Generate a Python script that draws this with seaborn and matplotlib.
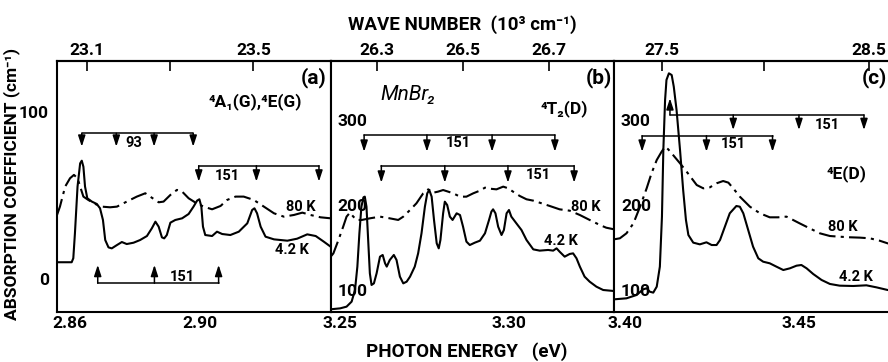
import matplotlib
matplotlib.use("Agg")
import matplotlib.pyplot as plt
import pandas as pd
import seaborn as sns

# ---------------- panel (a): 4A1(G), 4E(G) ----------------
energy_a_42K = [2.8560, 2.8605, 2.8610, 2.8615, 2.8623, 2.8631, 2.8636, 2.8641, 2.8646, 2.8653,
                2.8667, 2.8682, 2.8692, 2.8701, 2.8708, 2.8718, 2.8728, 2.8744, 2.8759, 2.8774,
                2.8795, 2.8815, 2.8836, 2.8851, 2.8862, 2.8872, 2.8882, 2.8889, 2.8897, 2.8908,
                2.8923, 2.8944, 2.8964, 2.8979, 2.8990, 2.8997, 2.9003, 2.9008, 2.9015, 2.9036,
                2.9051, 2.9067, 2.9092, 2.9118, 2.9144, 2.9159, 2.9166, 2.9174, 2.9185, 2.9200,
                2.9226, 2.9267, 2.9297, 2.9328, 2.9354, 2.9379, 2.9400]
alpha_a_42K = [10.2, 10.2, 12.6, 27.5, 55.5, 69.4, 71.0, 67.4, 55.5, 48.5,
               46.5, 45.1, 42.5, 35.5, 23.5, 19.1, 18.5, 20.5, 22.3, 21.1,
               21.9, 23.5, 25.9, 30.5, 34.5, 31.5, 25.1, 24.5, 26.5, 33.9,
               35.5, 36.5, 39.1, 43.5, 47.1, 47.9, 43.5, 31.5, 26.5, 25.9,
               28.5, 27.1, 26.5, 28.5, 33.5, 41.5, 42.5, 39.5, 31.5, 25.5,
               23.9, 23.1, 24.3, 26.9, 25.9, 22.5, 19.5]
energy_a_80K = [2.8560, 2.8569, 2.8585, 2.8600, 2.8612, 2.8623, 2.8631, 2.8641, 2.8656, 2.8677,
                2.8697, 2.8723, 2.8744, 2.8774, 2.8805, 2.8831, 2.8846, 2.8872, 2.8887, 2.8908,
                2.8928, 2.8944, 2.8964, 2.8985, 2.9010, 2.9036, 2.9062, 2.9082, 2.9108, 2.9133,
                2.9164, 2.9195, 2.9226, 2.9256, 2.9287, 2.9313, 2.9338, 2.9369, 2.9400]
alpha_a_80K = [38.5, 43.5, 55.5, 60.5, 62.5, 60.5, 55.5, 49.5, 47.5, 45.1,
               43.5, 43.1, 43.5, 46.5, 49.5, 51.5, 49.5, 46.1, 46.5, 50.5,
               53.5, 52.5, 48.5, 45.9, 43.5, 41.9, 43.9, 47.5, 49.5, 49.5,
               47.5, 43.5, 39.5, 37.5, 38.5, 39.9, 38.5, 37.1, 36.5]

# ---------------- panel (b): 4T2(D) ----------------
energy_b_42K = [3.2472, 3.2500, 3.2519, 3.2534, 3.2544, 3.2551, 3.2557, 3.2563, 3.2569, 3.2573,
                3.2578, 3.2583, 3.2588, 3.2593, 3.2600, 3.2608, 3.2618, 3.2626, 3.2633, 3.2638,
                3.2647, 3.2659, 3.2667, 3.2677, 3.2687, 3.2697, 3.2707, 3.2721, 3.2731, 3.2741,
                3.2751, 3.2758, 3.2764, 3.2771, 3.2778, 3.2786, 3.2792, 3.2797, 3.2805, 3.2810,
                3.2817, 3.2825, 3.2833, 3.2845, 3.2855, 3.2864, 3.2874, 3.2884, 3.2899, 3.2914,
                3.2929, 3.2941, 3.2948, 3.2953, 3.2960, 3.2968, 3.2978, 3.2985, 3.2993, 3.3000,
                3.3007, 3.3022, 3.3037, 3.3052, 3.3072, 3.3091, 3.3116, 3.3131, 3.3141, 3.3150,
                3.3165, 3.3180, 3.3190, 3.3200, 3.3210, 3.3224, 3.3239, 3.3259, 3.3279, 3.3311]
alpha_b_42K = [77.3, 78.4, 80.4, 86.3, 100.0, 127.5, 166.7, 198.0, 209.0, 209.8,
               198.0, 158.8, 119.6, 105.9, 107.8, 119.6, 139.2, 141.2, 131.4, 127.5,
               135.3, 141.2, 135.3, 115.7, 107.8, 109.8, 115.7, 127.5, 143.1, 166.7,
               198.0, 213.7, 217.6, 209.8, 182.4, 154.9, 149.0, 158.8, 190.2, 203.9,
               200.0, 186.3, 182.4, 190.2, 188.2, 174.5, 156.9, 152.9, 155.7, 158.0,
               166.7, 182.4, 192.2, 194.9, 190.2, 174.5, 164.7, 170.6, 190.2, 194.1,
               186.3, 178.4, 170.6, 158.8, 147.8, 146.3, 147.1, 146.3, 149.0, 145.1,
               139.2, 142.4, 143.1, 137.3, 127.5, 115.7, 109.8, 103.9, 100.0, 98.8]
energy_b_80K = [3.2472, 3.2480, 3.2495, 3.2509, 3.2519, 3.2529, 3.2539, 3.2549, 3.2564, 3.2588,
                3.2618, 3.2647, 3.2672, 3.2687, 3.2707, 3.2726, 3.2746, 3.2761, 3.2776, 3.2790,
                3.2805, 3.2820, 3.2835, 3.2855, 3.2874, 3.2894, 3.2914, 3.2929, 3.2943, 3.2963,
                3.2983, 3.2998, 3.3012, 3.3032, 3.3052, 3.3072, 3.3091, 3.3121, 3.3150, 3.3180,
                3.3210, 3.3239, 3.3269, 3.3288, 3.3311]
alpha_b_80K = [139.2, 143.1, 158.8, 174.5, 186.3, 191.0, 186.3, 182.4, 182.4, 184.3,
               186.3, 184.3, 182.4, 186.3, 194.1, 202.0, 213.7, 218.4, 214.5, 215.7,
               217.6, 215.7, 213.7, 209.8, 209.8, 213.7, 216.9, 220.4, 219.2, 218.4,
               221.6, 219.6, 215.7, 210.6, 206.7, 205.1, 202.7, 198.8, 194.9, 193.3,
               188.2, 182.4, 176.5, 173.3, 171.4]

# ---------------- panel (c): 4E(D) ----------------
energy_c_42K = [3.3968, 3.4004, 3.4033, 3.4052, 3.4062, 3.4071, 3.4081, 3.4091, 3.4100, 3.4106,
                3.4110, 3.4115, 3.4119, 3.4126, 3.4134, 3.4140, 3.4148, 3.4158, 3.4167, 3.4175,
                3.4182, 3.4196, 3.4215, 3.4234, 3.4249, 3.4263, 3.4273, 3.4287, 3.4301, 3.4320,
                3.4330, 3.4340, 3.4354, 3.4368, 3.4383, 3.4397, 3.4416, 3.4435, 3.4455, 3.4474,
                3.4493, 3.4507, 3.4522, 3.4541, 3.4565, 3.4589, 3.4617, 3.4656, 3.4694, 3.4723,
                3.4755, 3.4780]
alpha_c_42K = [89.0, 90.2, 94.1, 100.8, 102.0, 98.0, 96.9, 103.9, 127.5, 186.3,
               264.7, 323.5, 347.1, 354.9, 352.9, 339.2, 311.8, 264.7, 217.6, 182.4,
               164.7, 155.7, 153.7, 156.1, 152.9, 152.9, 158.8, 174.5, 190.2, 198.8,
               198.0, 190.2, 170.6, 151.0, 137.3, 133.3, 131.4, 127.5, 123.5, 125.5,
               128.6, 129.4, 125.5, 118.8, 111.8, 107.1, 105.1, 104.7, 105.5, 103.1,
               100.0, 99.0]
energy_c_80K = [3.3968, 3.3985, 3.4004, 3.4024, 3.4043, 3.4062, 3.4076, 3.4091, 3.4105, 3.4115,
                3.4124, 3.4138, 3.4158, 3.4177, 3.4206, 3.4225, 3.4244, 3.4263, 3.4282, 3.4297,
                3.4311, 3.4330, 3.4359, 3.4388, 3.4416, 3.4440, 3.4464, 3.4483, 3.4502, 3.4531,
                3.4560, 3.4589, 3.4617, 3.4646, 3.4675, 3.4704, 3.4732, 3.4755, 3.4780]
alpha_c_80K = [159.6, 160.8, 166.7, 178.4, 198.0, 219.6, 237.3, 252.9, 262.7, 268.6,
               265.5, 258.8, 249.0, 239.2, 223.5, 219.6, 220.8, 225.5, 228.2, 226.3,
               219.6, 209.8, 198.0, 190.2, 185.5, 185.5, 186.3, 182.4, 178.4, 172.5,
               166.7, 163.5, 162.7, 162.0, 161.6, 160.8, 158.0, 154.9, 153.0]

# ---------------- vibronic progressions (arrow positions, eV) ----------------
prog_a_93 = [2.8636, 2.8742, 2.8858, 2.8978]
prog_a_151_top = [2.8995, 2.9172, 2.9364]
prog_a_151_bottom = [2.8685, 2.8859, 2.9056]
prog_b_151_first = [3.2571, 3.2757, 3.2950, 3.3136]
prog_b_151_second = [3.2622, 3.2810, 3.2997, 3.3193]
prog_c_151_upper = [3.4129, 3.4311, 3.4500, 3.4687]
prog_c_151_lower = [3.4049, 3.4234, 3.4424]

# ---------------- axis ticks ----------------
bottom_ticks_a = [2.86, 2.90]
bottom_ticks_b = [3.25, 3.30]
bottom_ticks_c = [3.40, 3.45]
left_ticks_a = [0, 100]
left_ticks_bc = [100, 200, 300]
top_pos_a = [2.8651, 2.8908, 2.9163]
top_lab_a = ["23.1", "", "23.5"]
top_pos_b = [3.2608, 3.2864, 3.3118]
top_lab_b = ["26.3", "26.5", "26.7"]
top_pos_c = [3.4105, 3.4399, 3.4701]
top_lab_c = ["27.5", "", "28.5"]

sns.set_theme(style="white")
plt.rcParams["font.family"] = ["Roboto", "DejaVu Sans"]
plt.rcParams["axes.linewidth"] = 1.5
plt.rcParams["axes.edgecolor"] = "black"
plt.rcParams["text.color"] = "black"
plt.rcParams["xtick.color"] = "black"
plt.rcParams["ytick.color"] = "black"

TICK_FS = 12.5
SMALL_FS = 10.5
STATE_FS = 12.5
PANEL_FS = 15
TITLE_FS = 13.5

fig = plt.figure(figsize=(8.88, 3.62), dpi=100)
ax_a = fig.add_axes([0.0642, 0.1381, 0.3082, 0.6934])
ax_b = fig.add_axes([0.3724, 0.1381, 0.3190, 0.6934])
ax_c = fig.add_axes([0.6914, 0.1381, 0.3164, 0.6934])

DASHES = {"4.2 K": "", "80 K": (8, 2.5, 1.5, 2.5)}


def spectra(ax, e42, a42, e80, a80):
    df = pd.concat([
        pd.DataFrame({"energy": e42, "alpha": a42, "T": "4.2 K"}),
        pd.DataFrame({"energy": e80, "alpha": a80, "T": "80 K"}),
    ])
    sns.lineplot(data=df, x="energy", y="alpha", style="T", dashes=DASHES,
                 color="black", lw=1.5, estimator=None, sort=False,
                 legend=False, ax=ax)
    ax.set_xlabel("")
    ax.set_ylabel("")


def progression(ax, xs, y_bar, tips, label, label_xy):
    ax.plot([xs[0], xs[-1]], [y_bar, y_bar], color="black", lw=1.1)
    for x, tip in zip(xs, tips):
        ax.annotate("", xy=(x, tip), xytext=(x, y_bar),
                    arrowprops=dict(arrowstyle="-|>,head_length=0.55,head_width=0.18",
                                    color="black", lw=1.1, shrinkA=0, shrinkB=0))
    ax.text(label_xy[0], label_xy[1], label, ha="center", va="center",
            fontsize=SMALL_FS, fontweight="bold")


spectra(ax_a, energy_a_42K, alpha_a_42K, energy_a_80K, alpha_a_80K)
spectra(ax_b, energy_b_42K, alpha_b_42K, energy_b_80K, alpha_b_80K)
spectra(ax_c, energy_c_42K, alpha_c_42K, energy_c_80K, alpha_c_80K)

ax_a.set_xlim(2.856, 2.940)
ax_a.set_ylim(-19.6, 130.7)
ax_b.set_xlim(3.2472, 3.3311)
ax_b.set_ylim(74.1, 369.4)
ax_c.set_xlim(3.3968, 3.4776)
ax_c.set_ylim(74.1, 369.4)

for ax, bt, tp, tl in [(ax_a, bottom_ticks_a, top_pos_a, top_lab_a),
                       (ax_b, bottom_ticks_b, top_pos_b, top_lab_b),
                       (ax_c, bottom_ticks_c, top_pos_c, top_lab_c)]:
    ax.set_xticks(bt, labels=[f"{v:.2f}" for v in bt])
    ax.tick_params(axis="x", direction="in", length=7, width=1.2, pad=3,
                   labelsize=TICK_FS)
    for lab in ax.get_xticklabels():
        lab.set_fontweight("bold")
    top = ax.secondary_xaxis("top")
    top.set_xticks(tp, labels=tl)
    top.tick_params(direction="in", length=7, width=1.2, pad=2, labelsize=TICK_FS)
    for lab in top.get_xticklabels():
        lab.set_fontweight("bold")
    top.spines["top"].set_linewidth(1.5)
    for sp in ax.spines.values():
        sp.set_linewidth(1.5)

# panel (a) y axis: labels outside
ax_a.set_yticks(left_ticks_a, labels=[str(v) for v in left_ticks_a])
ax_a.tick_params(axis="y", direction="inout", length=12, width=1.2, pad=0,
                 labelsize=TICK_FS)
for lab in ax_a.get_yticklabels():
    lab.set_fontweight("bold")

# panels (b), (c) y axis: labels inside the frame
for ax in (ax_b, ax_c):
    ax.set_yticks(left_ticks_bc, labels=[str(v) for v in left_ticks_bc])
    ax.tick_params(axis="y", direction="in", length=4, width=1.2, pad=-5,
                   labelsize=TICK_FS)
    for lab in ax.get_yticklabels():
        lab.set_horizontalalignment("left")
        lab.set_fontweight("bold")

# progressions
progression(ax_a, prog_a_93, 87.4, [79.4] * 4, "93", (2.8795, 81.8))
progression(ax_a, prog_a_151_top, 68.0, [58.5] * 3, "151", (2.9082, 61.9))
progression(ax_a, prog_a_151_bottom, -2.4, [8.6] * 3, "151", (2.8944, 1.6))
progression(ax_b, prog_b_151_first, 282.4, [262.7] * 4, "151", (3.2850, 272.5))
progression(ax_b, prog_b_151_second, 246.3, [226.3] * 4, "151", (3.3086, 235.3))
progression(ax_c, prog_c_151_upper, 305.9, [325.5, 288.2, 288.2, 288.2], "151",
            (3.4582, 294.1))
progression(ax_c, prog_c_151_lower, 281.5, [262.7] * 3, "151", (3.4311, 271.8))

# curve labels and state assignments
lab_kw = dict(ha="center", va="center", fontsize=SMALL_FS, fontweight="bold")
ax_a.text(2.9308, 43.3, "80 K", **lab_kw)
ax_a.text(2.9282, 17.5, "4.2 K", **lab_kw)
ax_b.text(3.3227, 198.0, "80 K", **lab_kw)
ax_b.text(3.3155, 158.0, "4.2 K", **lab_kw)
ax_c.text(3.4625, 173.8, "80 K", **lab_kw)
ax_c.text(3.4665, 115.0, "4.2 K", **lab_kw)

st_kw = dict(ha="center", va="center", fontsize=STATE_FS, fontweight="bold")
ax_a.text(2.9169, 106.3, "⁴A₁(G),⁴E(G)", **st_kw)
ax_b.text(3.3165, 313.8, "⁴T₂(D)", **st_kw)
ax_c.text(3.4637, 237.3, "⁴E(D)", **st_kw)
ax_b.text(3.2702, 329.4, "MnBr₂", ha="center", va="center",
          fontsize=15, style="italic")

pan_kw = dict(ha="center", va="center", fontsize=PANEL_FS, fontweight="bold")
ax_a.text(2.9349, 121.0, "(a)", **pan_kw)
ax_b.text(3.3267, 350.2, "(b)", **pan_kw)
ax_c.text(3.4718, 350.2, "(c)", **pan_kw)

fig.text(0.521, 0.931, "WAVE NUMBER  (10³ cm⁻¹)", ha="center",
         va="center", fontsize=TITLE_FS, fontweight="bold")
fig.text(0.525, 0.028, "PHOTON ENERGY   (eV)", ha="center",
         va="center", fontsize=TITLE_FS, fontweight="bold")
fig.text(0.0135, 0.492, "ABSORPTION COEFFICIENT (cm⁻¹)", rotation=90,
         ha="center", va="center", fontsize=12.5, fontweight="bold")

fig.savefig("out.png", dpi=100, facecolor="white")
